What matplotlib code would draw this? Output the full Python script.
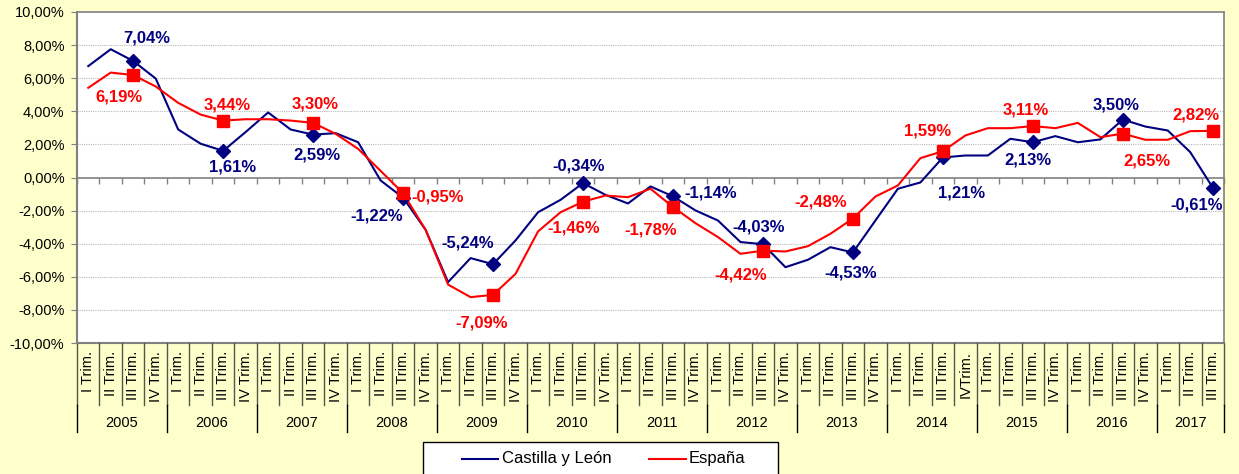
import numpy as np
import matplotlib
matplotlib.use("Agg")
import matplotlib.pyplot as plt
from matplotlib.ticker import FuncFormatter
from matplotlib.patches import Rectangle
from matplotlib.lines import Line2D

plt.rcParams["font.family"] = ["Liberation Sans", "DejaVu Sans"]

# Quarterly data, 2005 Q1 .. 2017 Q3 (%)
years = ["2005", "2006", "2007", "2008", "2009", "2010", "2011", "2012",
         "2013", "2014", "2015", "2016", "2017"]
quarters_per_year = [4, 4, 4, 4, 4, 4, 4, 4, 4, 4, 4, 4, 3]
quarter_labels = (["I Trim.", "II Trim.", "III Trim.", "IV Trim."] * 9
                  + ["I Trim.", "II Trim.", "III Trim.", "IVTrim."]
                  + ["I Trim.", "II Trim.", "III Trim.", "IV Trim."] * 2
                  + ["I Trim.", "II Trim.", "III Trim."])

castilla_leon = [6.73, 7.75, 7.04, 5.98, 2.90, 2.04, 1.61, 2.75, 3.93, 2.90, 2.59, 2.68, 2.13, -0.18, -1.22,
                 -3.16, -6.32, -4.87, -5.24, -3.80, -2.10, -1.35, -0.34, -1.05, -1.57, -0.54, -1.14, -1.99, -2.60,
                 -3.90, -4.03, -5.42, -4.97, -4.21, -4.53, -2.60, -0.68, -0.30, 1.21, 1.33, 1.33, 2.34, 2.13,
                 2.50, 2.13, 2.30, 3.50, 3.08, 2.84, 1.53, -0.61]
espana = [5.42, 6.34, 6.19, 5.50, 4.51, 3.80, 3.44, 3.52, 3.52, 3.44, 3.30, 2.64, 1.73, 0.40, -0.95,
          -3.16, -6.47, -7.23, -7.09, -5.82, -3.26, -2.10, -1.46, -1.09, -1.19, -0.68, -1.78, -2.76, -3.60,
          -4.61, -4.42, -4.47, -4.15, -3.40, -2.48, -1.15, -0.48, 1.17, 1.59, 2.54, 2.98, 2.98, 3.11,
          2.98, 3.30, 2.44, 2.65, 2.28, 2.28, 2.80, 2.82]

# marked points: third quarter of every year
marked = list(range(2, 51, 4))

# label offsets in pixels (dx right, dy up)
cyl_offsets = [(14, 23), (9, -16), (4, -20), (-26, -18), (-25, 21), (-4, 17), (38, 3),
               (-4, 17), (-2, -21), (19, -36), (-5, -18), (-7, 15), (-16, -17)]
esp_offsets = [(-14, -22), (4, 16), (2, 19), (35, -4), (-11, -28), (-9, -26), (-22, -23),
               (-22, -24), (-32, 17), (-15, 20), (-7, 16), (24, -27), (-17, 16)]

BLUE = "#000080"
RED = "#FF0000"
BG = "#FFFFCC"
W, H = 1239, 474


def fmt_pct(v):
    return f"{v:.2f}".replace(".", ",") + "%"


fig = plt.figure(figsize=(W / 100, H / 100), dpi=100, facecolor=BG)
left, right, top, bottom = 77, 1224, 12, 343
ax = fig.add_axes([left / W, (H - bottom) / H, (right - left) / W, (bottom - top) / H])
ax.set_facecolor("white")

x = np.arange(len(castilla_leon))
ax.plot(x, castilla_leon, color=BLUE, lw=1.5, zorder=3)
ax.plot(x, espana, color=RED, lw=1.5, zorder=4)
ax.plot(x[marked], np.array(castilla_leon)[marked], ls="none", marker="D",
        ms=7, color=BLUE, zorder=5)
ax.plot(x[marked], np.array(espana)[marked], ls="none", marker="s",
        ms=8.5, color=RED, zorder=6)

for k, i in enumerate(marked):
    ax.annotate(fmt_pct(castilla_leon[i]), (x[i], castilla_leon[i]),
                xytext=cyl_offsets[k], textcoords="offset pixels",
                ha="center", va="center", color=BLUE, fontsize=12, fontweight="bold", zorder=7)
    ax.annotate(fmt_pct(espana[i]), (x[i], espana[i]),
                xytext=esp_offsets[k], textcoords="offset pixels",
                ha="center", va="center", color=RED, fontsize=12, fontweight="bold", zorder=7)

ax.set_xlim(-0.5, len(x) - 0.5)
ax.set_ylim(-10, 10)
ax.set_yticks(np.arange(-10, 10.1, 2))
ax.yaxis.set_major_formatter(FuncFormatter(lambda v, p: fmt_pct(v)))
ax.tick_params(axis="y", direction="out", length=4, color="#808080", labelsize=10.5, pad=5)

for v in np.arange(-8, 9, 2):
    if v != 0:
        ax.axhline(v, color="#B8B8B8", lw=0.8, ls=(0, (1, 1)), zorder=1)

# category axis drawn at zero
ax.spines["bottom"].set_position(("data", 0))
ax.set_xticks(np.arange(-0.5, len(x), 1))
ax.tick_params(axis="x", direction="out", length=4, color="#808080", width=1,
               labelbottom=False)
for s in ["left", "right", "top", "bottom"]:
    ax.spines[s].set_color("#808080")
    ax.spines[s].set_linewidth(1.2)
ax.spines["left"].set_linewidth(1.5)
ax.axhline(-10, color="#808080", lw=1.5, clip_on=False, zorder=2)

# category labels below plot
trans = ax.get_xaxis_transform()
q_line = -(405 - bottom) / (bottom - top)
y_line = -(432 - bottom) / (bottom - top)
q_text = -(351 - bottom) / (bottom - top)
y_text = -(423 - bottom) / (bottom - top)
for i, lab in enumerate(quarter_labels):
    ax.text(i, q_text, lab, transform=trans, rotation=90, ha="center", va="top",
            fontsize=10.5, clip_on=False)
for b in np.arange(-0.5, len(x), 1):
    ax.plot([b, b], [0, q_line], transform=trans, color="#555544", lw=1, clip_on=False)

start = 0
edges = [-0.5]
for yr, n in zip(years, quarters_per_year):
    ax.text(start + (n - 1) / 2, y_text, yr, transform=trans, ha="center", va="center",
            fontsize=10.5, clip_on=False)
    start += n
    edges.append(start - 0.5)
for b in edges:
    ax.plot([b, b], [q_line, y_line], transform=trans, color="black", lw=1, clip_on=False)


# legend box
def fx(px):
    return px / W


def fy(py):
    return (H - py) / H


fig.add_artist(Rectangle((fx(423), fy(490)), fx(778) - fx(423), fy(442) - fy(490),
                         transform=fig.transFigure, facecolor="white", edgecolor="black", lw=1))
fig.add_artist(Line2D([fx(462), fx(498)], [fy(459), fy(459)], transform=fig.transFigure,
                      color=BLUE, lw=1.5))
fig.text(fx(502), fy(459), "Castilla y León", ha="left", va="center", fontsize=12)
fig.add_artist(Line2D([fx(649), fx(686)], [fy(459), fy(459)], transform=fig.transFigure,
                      color=RED, lw=1.5))
fig.text(fx(689), fy(459), "España", ha="left", va="center", fontsize=12)

fig.savefig("out.png", dpi=100, facecolor=BG)
